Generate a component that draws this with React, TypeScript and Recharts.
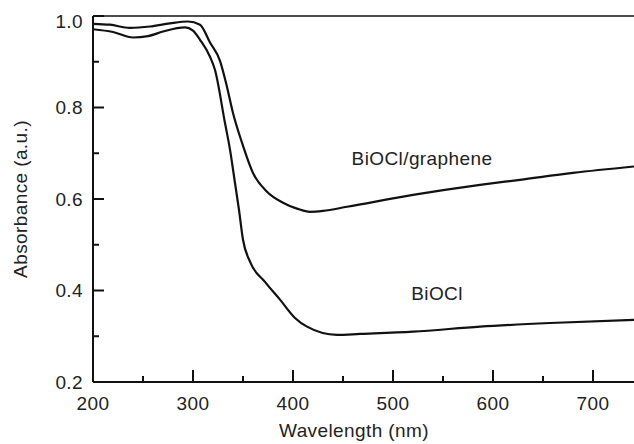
import React from "react";
import {
  LineChart,
  Line,
  XAxis,
  YAxis,
  ReferenceLine,
  ReferenceDot,
} from "recharts";

const graphene = [
  { x: 200, y: 0.983 },
  { x: 217, y: 0.981 },
  { x: 237, y: 0.974 },
  { x: 257, y: 0.977 },
  { x: 277, y: 0.984 },
  { x: 295, y: 0.988 },
  { x: 307, y: 0.981 },
  { x: 317, y: 0.942 },
  { x: 327, y: 0.902 },
  { x: 334, y: 0.845 },
  { x: 340, y: 0.788 },
  { x: 349, y: 0.723 },
  { x: 360, y: 0.657 },
  { x: 374, y: 0.616 },
  { x: 390, y: 0.592 },
  { x: 404, y: 0.579 },
  { x: 417, y: 0.572 },
  { x: 430, y: 0.574 },
  { x: 454, y: 0.583 },
  { x: 520, y: 0.609 },
  { x: 587, y: 0.631 },
  { x: 627, y: 0.642 },
  { x: 680, y: 0.657 },
  { x: 741, y: 0.671 },
];

const biocl = [
  { x: 200, y: 0.971 },
  { x: 220, y: 0.965 },
  { x: 240, y: 0.953 },
  { x: 255, y: 0.956 },
  { x: 270, y: 0.966 },
  { x: 292, y: 0.975 },
  { x: 300, y: 0.968 },
  { x: 307, y: 0.948 },
  { x: 317, y: 0.911 },
  { x: 322, y: 0.882 },
  { x: 332, y: 0.766 },
  { x: 337, y: 0.708 },
  { x: 342, y: 0.635 },
  { x: 346, y: 0.576 },
  { x: 350, y: 0.511 },
  { x: 357, y: 0.463 },
  { x: 372, y: 0.419 },
  { x: 387, y: 0.38 },
  { x: 402, y: 0.34 },
  { x: 414, y: 0.321 },
  { x: 444, y: 0.303 },
  { x: 467, y: 0.305 },
  { x: 520, y: 0.31 },
  { x: 587, y: 0.321 },
  { x: 657, y: 0.329 },
  { x: 741, y: 0.336 },
];

const xTicks = [200, 250, 300, 350, 400, 450, 500, 550, 600, 650, 700];
const yTicks = [0.2, 0.3, 0.4, 0.5, 0.6, 0.7, 0.8, 0.9, 1.0];

const FONT = "'Liberation Sans', Arial, Helvetica, sans-serif";
const INK = "#111";
const TEXT = "#222";
const FS = 19;
const LS = 0.4;

const XTick = (props: any) => {
  const { x, y, payload } = props;
  const major = payload.value % 100 === 0;
  return (
    <g>
      <line x1={x} x2={x} y1={y} y2={y - (major ? 12 : 6)} stroke={INK} strokeWidth={2} />
      {major && (
        <text x={x} y={y + 27.5} textAnchor="middle" fontSize={FS} letterSpacing={LS} fill={TEXT} fontFamily={FONT}>
          {payload.value}
        </text>
      )}
    </g>
  );
};

const YTick = (props: any) => {
  const { x, y, payload } = props;
  const v = Math.round(payload.value * 10);
  const major = v % 2 === 0;
  return (
    <g>
      <line x1={x} x2={x + (major ? 11 : 6)} y1={y} y2={y} stroke={INK} strokeWidth={2} />
      {major && (
        <text
          x={x - 10}
          y={y + (v === 10 ? 12 : 6.5)}
          textAnchor="end"
          fontSize={FS}
          letterSpacing={LS}
          fill={TEXT}
          fontFamily={FONT}
        >
          {payload.value.toFixed(1)}
        </text>
      )}
    </g>
  );
};

export default function App() {
  return (
    <div style={{ position: "absolute", left: 0, top: 0, background: "#fff" }}>
      <LineChart
        width={634}
        height={444}
        margin={{ top: 16, right: 0, left: 0, bottom: 0 }}
      >
        <XAxis
          dataKey="x"
          type="number"
          domain={[200, 741]}
          ticks={xTicks}
          tick={<XTick />}
          tickLine={false}
          tickSize={0}
          tickMargin={0}
          height={62}
          axisLine={{ stroke: INK, strokeWidth: 2 }}
          allowDataOverflow
          label={{
            content: () => (
              <text x={354} y={437} textAnchor="middle" fontSize={FS} letterSpacing={LS} fill={TEXT} fontFamily={FONT}>
                Wavelength (nm)
              </text>
            ),
          }}
        />
        <YAxis
          type="number"
          domain={[0.2, 1.0]}
          ticks={yTicks}
          tick={<YTick />}
          tickLine={false}
          tickSize={0}
          tickMargin={0}
          width={93}
          axisLine={{ stroke: INK, strokeWidth: 2 }}
          allowDataOverflow
          label={{
            content: () => (
              <text
                x={20}
                y={199}
                transform="rotate(-90 20 199)"
                textAnchor="middle"
                dominantBaseline="central"
                fontSize={FS}
                letterSpacing={LS}
                fill={TEXT}
                fontFamily={FONT}
              >
                Absorbance (a.u.)
              </text>
            ),
          }}
        />
        <ReferenceLine y={1.0} stroke={INK} strokeWidth={1.5} />
        <Line
          data={graphene}
          dataKey="y"
          type="monotone"
          stroke={INK}
          strokeWidth={2.2}
          dot={false}
          isAnimationActive={false}
        />
        <Line
          data={biocl}
          dataKey="y"
          type="monotone"
          stroke={INK}
          strokeWidth={2.2}
          dot={false}
          isAnimationActive={false}
        />
        <ReferenceDot
          x={529}
          y={0.688}
          r={0}
          stroke="none"
          fill="none"
          label={{ value: "BiOCl/graphene", position: "center", fontSize: FS, letterSpacing: LS, fill: TEXT, fontFamily: FONT }}
        />
        <ReferenceDot
          x={544}
          y={0.393}
          r={0}
          stroke="none"
          fill="none"
          label={{ value: "BiOCl", position: "center", fontSize: FS, letterSpacing: LS, fill: TEXT, fontFamily: FONT }}
        />
      </LineChart>
    </div>
  );
}
